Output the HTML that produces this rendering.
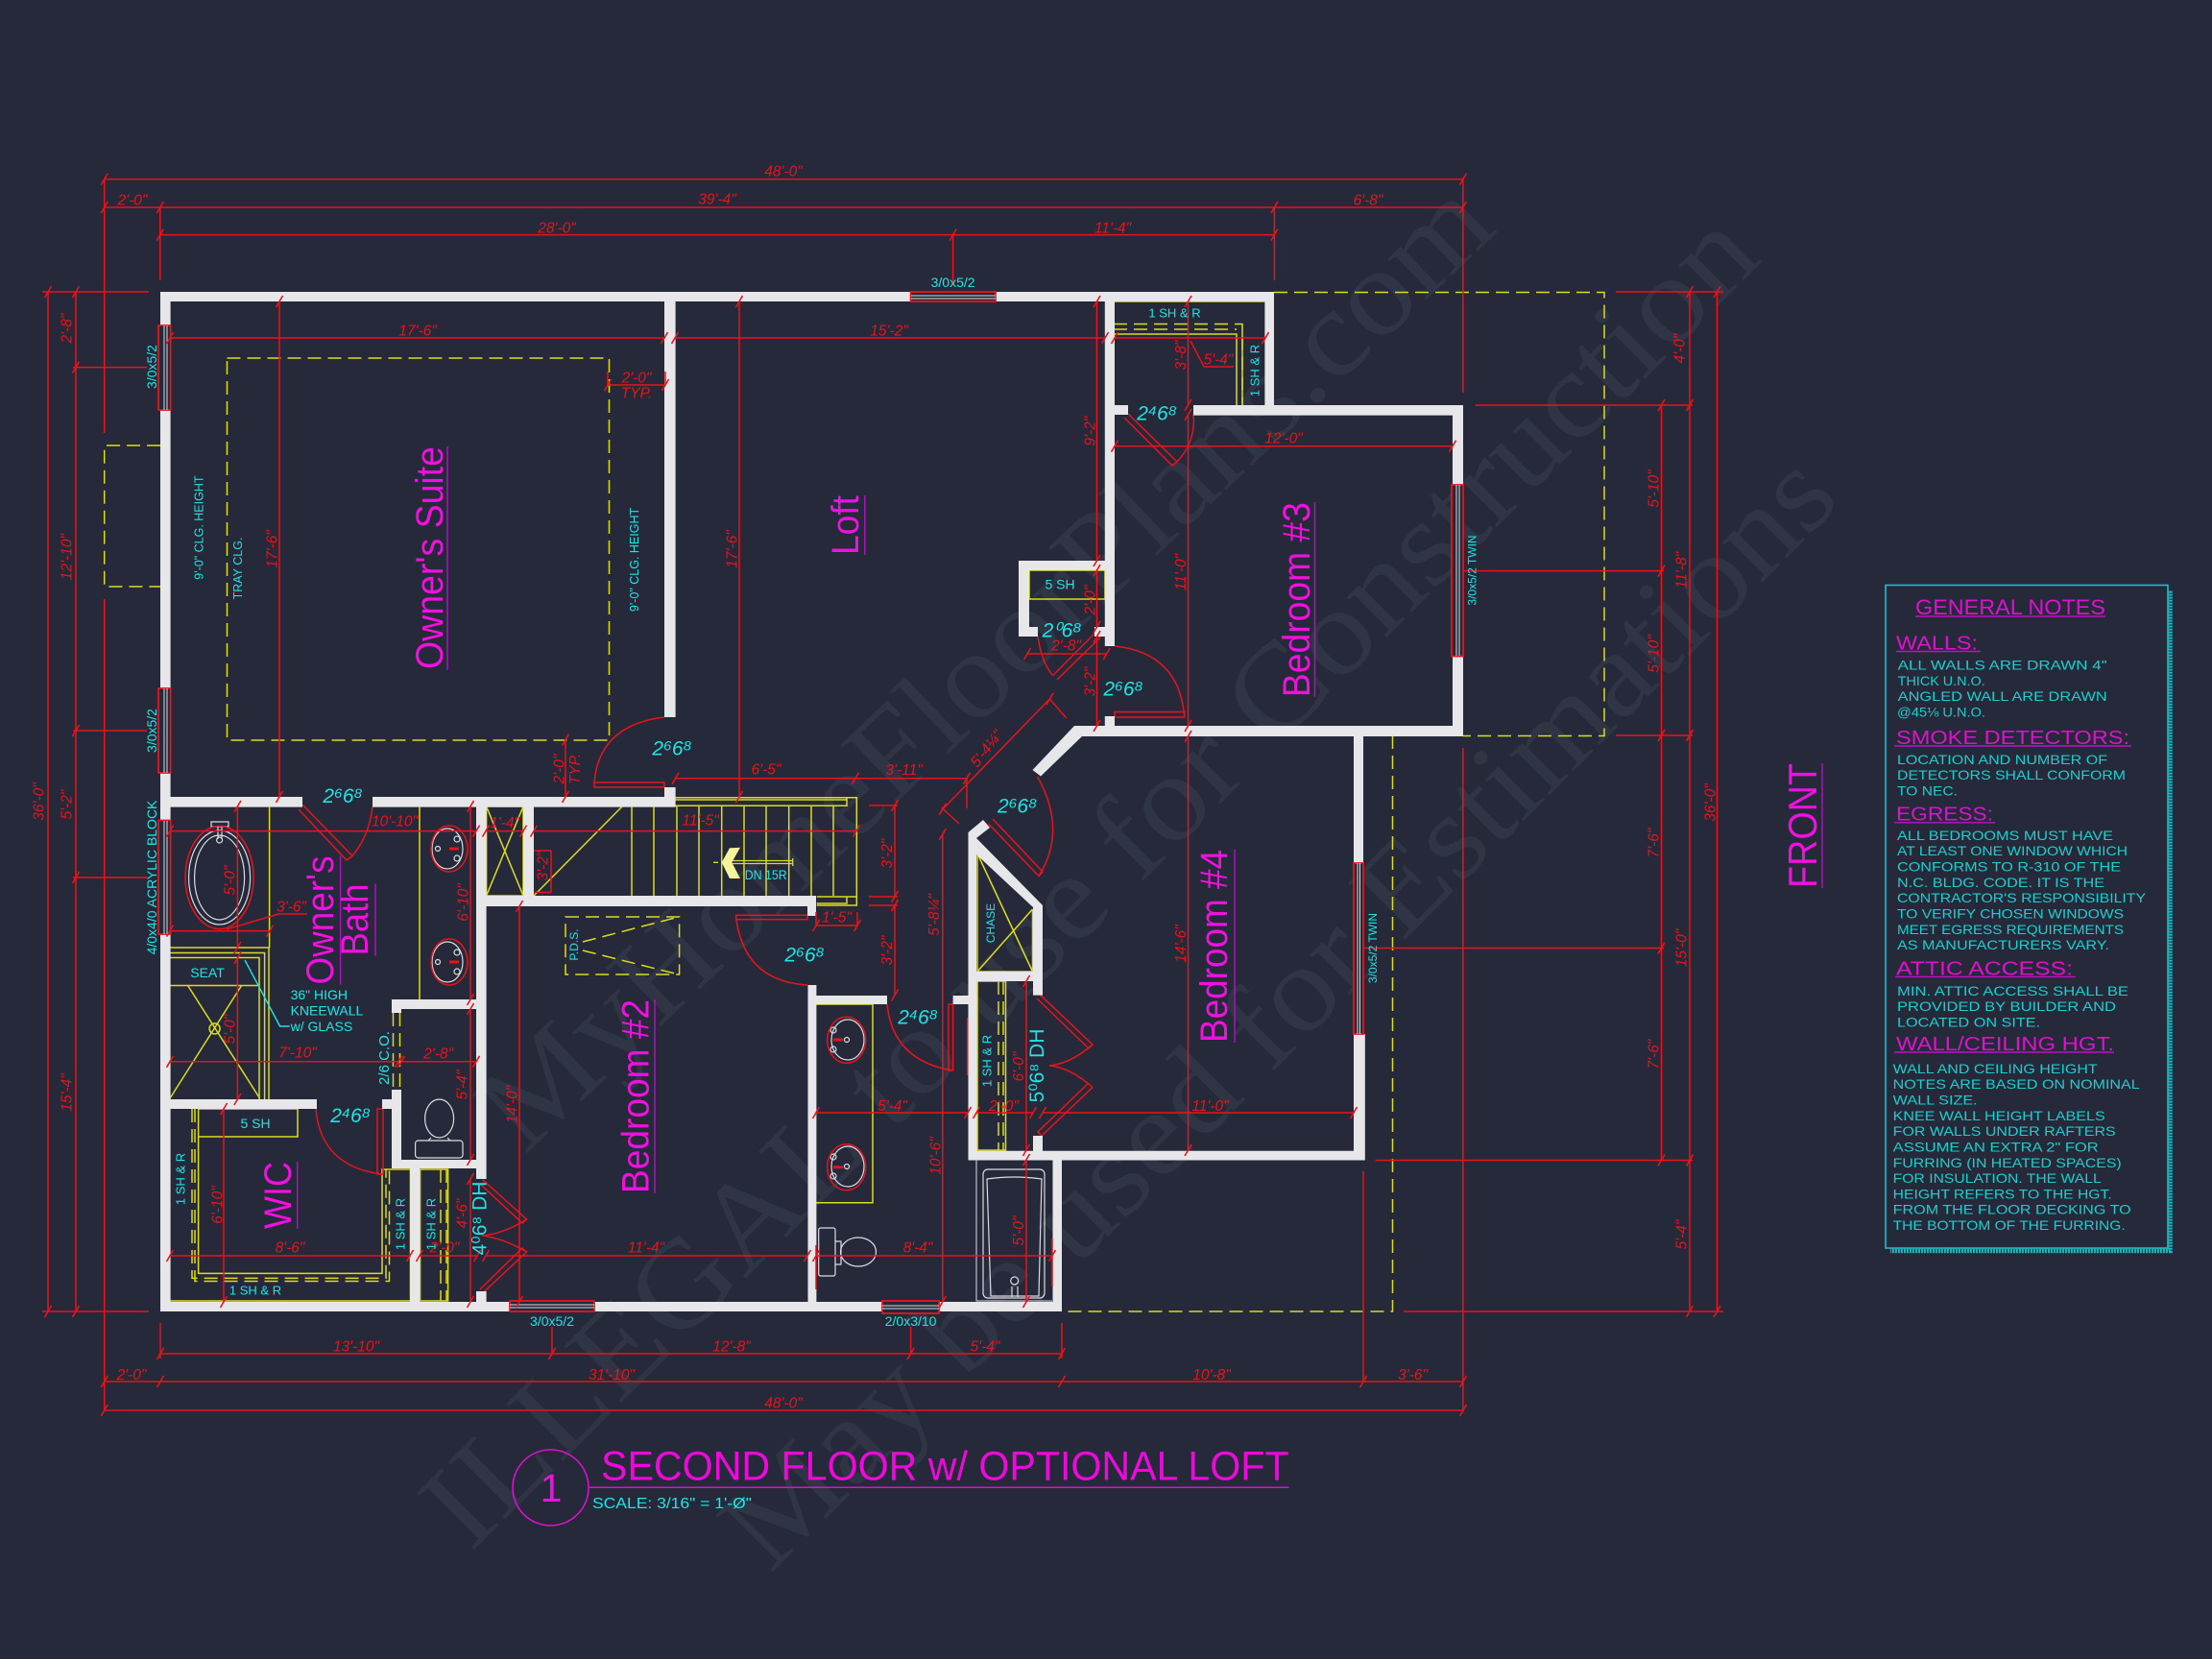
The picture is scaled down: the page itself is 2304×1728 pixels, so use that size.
<!DOCTYPE html>
<html><head><meta charset="utf-8"><title>Second Floor Plan</title>
<style>
html,body{margin:0;padding:0;background:#252939}
svg{display:block}
text{font-family:"Liberation Sans",sans-serif}
.w{font-family:"Liberation Serif",serif;fill:#303546;font-size:128px}
.d{fill:#e8141c;font-size:15.5px;font-style:italic;text-anchor:middle;dominant-baseline:central}
.c{fill:#1fe6e6;font-size:14px;text-anchor:middle;dominant-baseline:central}
.dr{fill:#1fe6e6;font-size:21px;font-style:italic;text-anchor:middle;dominant-baseline:central}
.m{fill:#f010e0;font-size:40px;text-anchor:middle}
.n{fill:#1ccfcf;font-size:14px}
.h{fill:#e010d0;font-size:20px}
.r{fill:none;stroke:#e8141c;stroke-width:1.5}
.y{fill:none;stroke:#dcdc1e;stroke-width:1.5}
.ds{stroke-dasharray:14 7}
.wh{fill:none;stroke:#dcdce2;stroke-width:1.2}
.ul{stroke:#b010c0;stroke-width:1.5}
.t{marker-start:url(#k);marker-mid:url(#k);marker-end:url(#k)}
</style></head><body>
<svg xmlns="http://www.w3.org/2000/svg" width="2304" height="1728" viewBox="0 0 2304 1728">
<defs><marker id="k" viewBox="-7 -7 14 14" markerUnits="userSpaceOnUse" markerWidth="14" markerHeight="14" orient="0"><path d="M-3.5 6L3.5 -6" stroke="#e8141c" stroke-width="1.6" fill="none"/></marker></defs>
<rect width="2304" height="1728" fill="#252939"/>

<!-- watermark -->
<g class="w">
<text class="w" transform="translate(546,1204) rotate(-43.5)" textLength="1400" lengthAdjust="spacingAndGlyphs">MyHomeFloorPlans.com</text>
<text class="w" transform="translate(490,1618) rotate(-45)" textLength="1905" lengthAdjust="spacingAndGlyphs">ILLEGAL to use for Construction</text>
<text class="w" transform="translate(802,1640) rotate(-45)" textLength="1580" lengthAdjust="spacingAndGlyphs">May be used for Estimations</text>
</g>

<!-- dashed outlines -->
<g class="y ds">
<path d="M167 464H108.7V611H167"/>
<path d="M1327 304.5H1671V766.5H1524"/>
<path d="M1450.5 766V1366H1106"/>
<rect x="236.5" y="373" width="398" height="398"/>
<rect x="589" y="955" width="118.6" height="60"/>
<path d="M607 981L707 955M607 990L707 1015"/>
</g>

<!-- yellow fixtures -->
<g class="y">
<path d="M280.6 840.6V987.5M437 840.6V1041"/>
<path d="M177 987H280V1145M177 992.5H275.6V1145M177 997.5H270V1145M177 1026.5H270"/>
<path d="M195.6 1026.5L270.6 1144M251.6 1026.5L177 1144"/>
<circle cx="223.6" cy="1071.4" r="5.5"/>
<rect x="206.6" y="1155" width="103.4" height="29"/>
<path d="M206.6 1184V1326.4H398V1218H427.5V1355H177M437.6 1218H466.6V1355H437.6Z"/>
<path d="M506.6 840H545V933H506.6ZM506.6 840L545 933M545 840L506.6 933"/>
<path d="M556 933L648 840"/>
<path d="M703 830.7H892.3V943H850.7M703 833H882V839.3H703M882 830.7V839.3M850.7 934H892.3M850.7 941H882V934"/>
<path d="M658 840V933M681 840V933M705 840V933M728 840V933M751.7 840V933M775 840V933M798 840V933M821.7 840V933M845 840V933M868 840V933"/>
<path d="M762 896.5H825.7M762 899.5H825.7M825.7 894V902M743 898.3H748" stroke-width="1.3"/>
<path d="M850 1046H909V1252.7H850"/>
<path d="M1018 889L1075.5 1012M1018 1012L1075.5 947M1018 889V1012H1075.5V947"/>
<path d="M1018 1022H1047.5V1198H1018Z"/>
<path d="M1072 594H1151V624H1072Z"/>
<path d="M1160 314H1318V422M1160 314V422"/>
<path d="M1160 348H1288V422M1294 422V343"/>
</g>
<g class="y ds" stroke-width="2">
<path d="M200 1155V1331.4H402V1218"/>
<path d="M203 1155V1334.5H405.5V1218"/>
<path d="M459 1218V1355M465 1218V1355M1040 1022V1198M1045 1022V1198"/>
<path d="M1160 337.5H1294V422M1160 343H1288"/>
<path d="M409.5 1055V1135M416.5 1055V1135"/>
</g>
<path d="M751.7 898.3L760 883.3L771 882.7L762.3 898.3L771 915L760 915Z" fill="#f4f49a"/>

<!-- red door panels and arcs -->
<g class="r">
<path d="M315 838L367 891.5L361 896L311 843"/><path d="M367 891.5Q385 870 388 840"/>
<rect x="393" y="1155" width="6" height="68"/><path d="M329 1155Q334 1215 398 1223"/>
<path d="M619 815V820H692V815H619"/><path d="M619 815Q624 755 692 747"/>
<path d="M502.5 1228.6L548.5 1270L544 1274L500 1233"/><path d="M548.5 1270Q525 1285 502 1287"/>
<path d="M502.5 1347L548.5 1304L544 1300L500 1343"/><path d="M548.5 1304Q525 1290 502 1287"/>
<rect x="766.7" y="953.3" width="74.3" height="4.4"/><path d="M766.7 956Q775 1022 841 1026"/>
<rect x="988" y="1046" width="4.6" height="69"/><path d="M924 1046Q930 1105 992.6 1115"/>
<path d="M1029.6 858L1082 912.5L1086 908L1034 853"/><path d="M1082 912.5Q1112 865 1080.6 809"/>
<path d="M1083.8 1036.6L1138 1088L1134 1092L1080 1040"/><path d="M1138 1088Q1115 1108 1093 1110"/>
<path d="M1138 1132.6L1085 1183L1081 1179L1134 1128"/><path d="M1138 1132.6Q1115 1112 1093 1110"/>
<path d="M1096.6 703.6L1141 659L1146 664L1101 708"/><path d="M1096.6 703.6Q1085 690 1081 663"/>
<rect x="1161" y="741.5" width="72.7" height="5.5"/><path d="M1161 673Q1228 680 1233.7 746"/>
<path d="M1175 431L1226 481L1221 485L1171 435"/><path d="M1226 481Q1246 460 1243 431"/>
</g>

<!-- walls -->
<path fill="#e7e7ea" d="M167 304H948V314H177.6V339H167ZM1037 304H1327V432H1318V314H1037ZM167 427H177.6V717H167ZM167 805H177.6V854H167ZM167 973H177.6V1356H531V1366H167ZM619 1356H919V1366H619ZM978 1356H1106V1366H978ZM1096.5 1208H1106V1356H1096.5ZM692 314H703.6V747H692ZM177 830H315V840.6H177ZM388 830H703.6V840.6H388ZM692 820H703.6V832H692ZM496 830H506.6V1228H496ZM545 830H556V944H545ZM496 933H850V944H496ZM841 933H850V954H841ZM408 1041H506V1051H418V1055H408ZM408 1135H418V1208H506V1217H408ZM167 1145H330V1155H167ZM398 1145H408V1155H398ZM427 1217H437V1356H427ZM496 1345H506.6V1356H496ZM841.5 1026H850.4V1037H924V1046H850.4V1366H841.5ZM992.6 1037H1008.5V867L1024 854L1031 862L1017 873L1086 943V1036.6H1076V945L1017 890V1012H1076V1022H1017.5V1198.7H1076V1183H1086V1198.7H1410V1077H1421.8V1208.5H1008.5V1046H992.6ZM1410 766H1420V899H1410ZM1150.8 314H1161V422H1175V432H1161V673H1150.8ZM1150.8 746H1161V756H1513V683.5H1524V767H1127L1084 808.5L1075.5 802L1119 756H1150.8ZM1243 422H1524V505H1513V432.6H1243ZM1061 584H1151V594H1072V653H1081V663H1061ZM1140 653H1151V663H1140Z"/>

<!-- windows -->
<g fill="#252939" stroke="#e8141c" stroke-width="1.8">
<rect x="165" y="339" width="12.6" height="88"/><rect x="165" y="717" width="12.6" height="88"/><rect x="165" y="854.5" width="12.6" height="118.5"/>
<rect x="948.6" y="304" width="88.4" height="10"/><rect x="531" y="1355" width="88" height="11"/><rect x="919" y="1355" width="59" height="13"/>
<rect x="1512" y="505" width="12" height="178.5"/><rect x="1410" y="899" width="10" height="178"/>
</g>
<path stroke="#dcdce2" stroke-width="1" d="M171 339V427M174 339V427M171 717V805M174 717V805M171 855V973M174 855V973M949 308H1037M949 311H1037M531 1359H619M531 1362H619M919 1360H978M919 1363H978M1517 505V683M1520 505V683M1414 899V1077M1416.5 899V1077"/>

<!-- fixtures -->
<g class="wh">
<ellipse cx="228.6" cy="914" rx="32" ry="49"/><ellipse cx="228.6" cy="914" rx="26" ry="44"/>
<path d="M220 856H238V861H220ZM227 861V874M231 861V874"/><circle cx="228.6" cy="875" r="3"/>
<ellipse cx="466" cy="884" rx="16" ry="21"/><ellipse cx="466" cy="1002" rx="16" ry="21"/>
<circle cx="476" cy="874" r="3"/><circle cx="476" cy="894" r="3"/><circle cx="476" cy="992" r="3"/><circle cx="476" cy="1012" r="3"/><circle cx="456" cy="884" r="2.5"/><circle cx="456" cy="1002" r="2.5"/>
<ellipse cx="457.6" cy="1165" rx="15" ry="20"/><rect x="432.6" y="1188" width="49.4" height="18" rx="3"/><path d="M449 1185L446 1188M466 1185L469 1188"/>
<ellipse cx="883" cy="1083" rx="17" ry="21"/><ellipse cx="883" cy="1215" rx="17" ry="21"/>
<circle cx="868" cy="1073" r="3"/><circle cx="868" cy="1093" r="3"/><circle cx="868" cy="1205" r="3"/><circle cx="868" cy="1225" r="3"/><circle cx="882" cy="1083" r="2.5"/><circle cx="882" cy="1215" r="2.5"/>
<path d="M852.7 1281a2 2 0 0 1 2-2H868a2 2 0 0 1 2 2V1327a2 2 0 0 1-2 2H854.7a2 2 0 0 1-2-2ZM870 1293H876V1317H870"/>
<ellipse cx="894" cy="1304" rx="18.5" ry="15"/>
<rect x="1024" y="1218" width="64" height="134" rx="5"/><path d="M1028 1228Q1056 1224 1085 1228L1082 1350H1032Z"/><circle cx="1056.7" cy="1334" r="4"/><path d="M1054 1340V1351M1060 1340V1351"/>
<path d="M1017 1208V1355H1096" stroke-width="1"/>
</g>
<g class="r">
<ellipse cx="228.6" cy="914" rx="35.5" ry="53.6"/>
<ellipse cx="468" cy="884" rx="19" ry="24"/><ellipse cx="468" cy="1002" rx="19" ry="24"/>
<ellipse cx="881.7" cy="1083.3" rx="20" ry="24"/><ellipse cx="881.7" cy="1215.7" rx="20" ry="24"/>
<path d="M868 1083H878M868 1215.7H878M468 884H478M468 1002H478" stroke-width="3"/>
<path d="M850 1297V1343M1007.7 1060V1120M1096 1290V1340" stroke-width="1.5"/>
</g>

<!-- dimension lines -->
<g class="r">
<polyline class="t" points="108.7,186.6 1523.9,186.6"/>
<polyline class="t" points="108.7,216 166.8,216 1327.4,216 1523.9,216"/>
<polyline class="t" points="166.8,244.6 992.6,244.6 1327.4,244.6"/>
<path d="M108.7 186V451M108.7 624V1470M166.8 216V292M1327.4 216V292M992.6 244V297M1523.9 186V409M1523.9 779V1470"/>
<polyline class="t" points="50,304 50,1366"/>
<polyline class="t" points="79,304 79,382.6 79,761 79,914 79,1366"/>
<path d="M44 304H155M44 1366H155M76 382.6H153M76 761H153M76 914H153"/>
<polyline class="t" points="1788.5,304 1788.5,1366"/>
<polyline class="t" points="1760,304 1760,422 1760,766 1760,1208.5 1760,1366"/>
<polyline class="t" points="1730.5,422 1730.5,594.6 1730.5,766 1730.5,987.5 1730.5,1208.5"/>
<path d="M1683 304H1795M1536.6 422H1763M1683 766H1763M1432.6 1208.5H1763M1462 1366H1795M1524 594.6H1733M1420 987.5H1733"/>
<polyline class="t" points="167,1410 575,1410 948.6,1410 1106,1410"/>
<polyline class="t" points="108.7,1439 167,1439 1106,1439 1420,1439 1524,1439"/>
<polyline class="t" points="108.7,1469 1524,1469"/>
<path d="M167 1378V1415M1106 1378V1415M575 1382V1410M948.6 1382V1410M1420 1220V1439"/>
<polyline class="t" points="177,352 692,352"/><polyline class="t" points="703,352 1151,352"/><polyline class="t" points="1161,352 1318,352"/>
<polyline class="t" points="291,314 291,830"/><polyline class="t" points="770,314 770,830"/>
<polyline class="t" points="633,401 693,401"/><path d="M633 387V401M693 387V401"/>
<polyline class="t" points="589,770.5 589,830"/>
<polyline class="t" points="177,865.6 496,865.6"/><polyline class="t" points="506,865.6 545,865.6"/><polyline class="t" points="556,865.6 892,865.6"/>
<polyline class="t" points="177,1105.8 415,1105.8"/><polyline class="t" points="418,1105.8 496,1105.8"/>
<polyline class="t" points="177,1308 427,1308"/><polyline class="t" points="437,1308 497,1308"/><polyline class="t" points="506,1308 841,1308"/><polyline class="t" points="850,1308 1096,1308"/>
<polyline class="t" points="850,1159 1008,1159"/><polyline class="t" points="1017,1159 1076,1159"/><polyline class="t" points="1086,1159 1410,1159"/>
<polyline class="t" points="850,964 893,964"/><path d="M850 950V964M893 950V964"/>
<polyline class="t" points="703.6,810.7 891,810.7 1007,810.7"/><path d="M1007 810V842"/>
<polyline class="t" points="981.8,843 1093.4,728"/><path d="M1093.4 728L1110.6 748M980.5 841L999 858"/>
<polyline class="t" points="932,839 932,934"/><polyline class="t" points="932,943 932,1036.6"/><path d="M905 839H935M905 934H935M905 943H935"/>
<polyline class="t" points="981.8,869 981.8,1356"/>
<path d="M574 886V929.5M556 886H574M556 929.5H574"/>
<polyline class="t" points="541,944 541,1356"/>
<polyline class="t" points="490,840 490,1041"/><polyline class="t" points="490,1051 490,1208"/><polyline class="t" points="490,1228 490,1356"/>
<polyline class="t" points="247.4,840 247.4,987"/><polyline class="t" points="247.4,998 247.4,1145"/>
<polyline class="t" points="177,969.6 281,969.6"/><path d="M236 968L290 952H320"/>
<polyline class="t" points="233,1155 233,1356"/>
<polyline class="t" points="1161,464.7 1513,464.7"/>
<polyline class="t" points="1237.5,314 1237.5,422"/><polyline class="t" points="1237.5,432 1237.5,756"/><polyline class="t" points="1237.5,767 1237.5,1198"/>
<polyline class="t" points="1069,1208 1069,1356"/><polyline class="t" points="1069,1022 1069,1198"/>
<polyline class="t" points="1142.5,314 1142.5,584"/><polyline class="t" points="1142.5,594 1142.5,653"/><polyline class="t" points="1142.5,663 1142.5,756"/>
<polyline class="t" points="1070,681 1152.7,681"/>
<path d="M1240 355L1254 382H1285"/>
</g>
<path d="M255 1000L291.6 1069H301.6" fill="none" stroke="#1fe6e6" stroke-width="1.4"/>

<!-- dimension text -->
<g>
<text class="d" x="816" y="179">48'-0"</text><text class="d" x="138" y="209">2'-0"</text><text class="d" x="747" y="208">39'-4"</text><text class="d" x="1425" y="209">6'-8"</text><text class="d" x="580" y="238">28'-0"</text><text class="d" x="1159" y="238">11'-4"</text>
<text class="d" x="816" y="1462">48'-0"</text><text class="d" x="371" y="1403">13'-10"</text><text class="d" x="762" y="1403">12'-8"</text><text class="d" x="1026" y="1403">5'-4"</text><text class="d" x="137" y="1432.6">2'-0"</text><text class="d" x="637" y="1432.6">31'-10"</text><text class="d" x="1262" y="1432.6">10'-8"</text><text class="d" x="1471.6" y="1432.6">3'-6"</text>
<text class="d" x="435" y="345">17'-6"</text><text class="d" x="926" y="345">15'-2"</text><text class="d" x="663" y="394">2'-0"</text><text class="d" x="663" y="410">TYP.</text>
<text class="d" x="411" y="856">10'-10"</text><text class="d" x="525.6" y="857.5">1'-4"</text><text class="d" x="729.6" y="855">11'-5"</text>
<text class="d" x="310" y="1097">7'-10"</text><text class="d" x="456.6" y="1098">2'-8"</text><text class="d" x="302" y="1300">8'-6"</text><text class="d" x="463" y="1300">2'-0"</text><text class="d" x="673" y="1300">11'-4"</text><text class="d" x="956" y="1300">8'-4"</text>
<text class="d" x="929.5" y="1152.7">5'-4"</text><text class="d" x="1045.5" y="1152.7">2'-0"</text><text class="d" x="1260.5" y="1152.7">11'-0"</text><text class="d" x="871.4" y="956">1'-5"</text><text class="d" x="798" y="802">6'-5"</text><text class="d" x="941.6" y="802.7">3'-11"</text>
<text class="d" x="303.6" y="945">3'-6"</text><text class="d" x="1337" y="457">12'-0"</text><text class="d" x="1110.6" y="673">2'-8"</text><text class="d" x="1269" y="375">5'-4"</text>
<text class="d" transform="rotate(-90 41 835)" x="41" y="835">36'-0"</text><text class="d" transform="rotate(-90 70 838)" x="70" y="838">5'-2"</text><text class="d" transform="rotate(-90 70 580)" x="70" y="580">12'-10"</text><text class="d" transform="rotate(-90 70 342)" x="70" y="342">2'-8"</text><text class="d" transform="rotate(-90 70 1138)" x="70" y="1138">15'-4"</text>
<text class="d" transform="rotate(-90 1750 363)" x="1750" y="363">4'-0"</text><text class="d" transform="rotate(-90 1723 509)" x="1723" y="509">5'-10"</text><text class="d" transform="rotate(-90 1752 594)" x="1752" y="594">11'-8"</text><text class="d" transform="rotate(-90 1723 681)" x="1723" y="681">5'-10"</text><text class="d" transform="rotate(-90 1782 836)" x="1782" y="836">36'-0"</text><text class="d" transform="rotate(-90 1723 878)" x="1723" y="878">7'-6"</text><text class="d" transform="rotate(-90 1723 1098)" x="1723" y="1098">7'-6"</text><text class="d" transform="rotate(-90 1752 987.5)" x="1752" y="987.5">15'-0"</text><text class="d" transform="rotate(-90 1752 1286)" x="1752" y="1286">5'-4"</text>
<text class="d" transform="rotate(-90 284 572)" x="284" y="572">17'-6"</text><text class="d" transform="rotate(-90 763 572)" x="763" y="572">17'-6"</text><text class="d" transform="rotate(-90 583 801)" x="583" y="801">2'-0"</text><text class="d" transform="rotate(-90 599.5 801)" x="599.5" y="801">TYP.</text>
<text class="d" transform="rotate(-90 566 902)" x="566" y="902">3'-2"</text><text class="d" transform="rotate(-90 534 1150.5)" x="534" y="1150.5">14'-0"</text><text class="d" transform="rotate(-90 483 940)" x="483" y="940">6'-10"</text><text class="d" transform="rotate(-90 482 1130)" x="482" y="1130">5'-4"</text><text class="d" transform="rotate(-90 482 1264)" x="482" y="1264">4'-6"</text>
<text class="d" transform="rotate(-90 240 917)" x="240" y="917">5'-0"</text><text class="d" transform="rotate(-90 240 1072)" x="240" y="1072">5'-0"</text><text class="d" transform="rotate(-90 227 1255)" x="227" y="1255">6'-10"</text>
<text class="d" transform="rotate(-90 1230.5 370)" x="1230.5" y="370">3'-8"</text><text class="d" transform="rotate(-90 1230.5 596)" x="1230.5" y="596">11'-0"</text><text class="d" transform="rotate(-90 1230.5 983)" x="1230.5" y="983">14'-6"</text><text class="d" transform="rotate(-90 1061.5 1282)" x="1061.5" y="1282">5'-0"</text><text class="d" transform="rotate(-90 1061.5 1111)" x="1061.5" y="1111">6'-0"</text>
<text class="d" transform="rotate(-90 1136 449)" x="1136" y="449">9'-2"</text><text class="d" transform="rotate(-90 1136 625)" x="1136" y="625">2'-0"</text><text class="d" transform="rotate(-90 1136 710)" x="1136" y="710">3'-2"</text>
<text class="d" transform="rotate(-90 924.4 889)" x="924.4" y="889">3'-2"</text><text class="d" transform="rotate(-90 924.4 990)" x="924.4" y="990">3'-2"</text><text class="d" transform="rotate(-90 973.5 953)" x="973.5" y="953">5'-8¼"</text><text class="d" transform="rotate(-90 975 1204)" x="975" y="1204">10'-6"</text>
<text class="d" transform="rotate(-52 1028 780)" x="1028" y="780">5'-4¼"</text>
</g>

<!-- cyan labels -->
<g>
<text class="c" x="992.6" y="294" font-size="15">3/0x5/2</text><text class="c" x="575" y="1376">3/0x5/2</text><text class="c" x="948.6" y="1376">2/0x3/10</text>
<text class="c" transform="rotate(-90 158 382)" x="158" y="382">3/0x5/2</text><text class="c" transform="rotate(-90 158 761)" x="158" y="761">3/0x5/2</text><text class="c" transform="rotate(-90 158 914)" x="158" y="914">4/0x4/0 ACRYLIC BLOCK</text>
<text class="c" transform="rotate(-90 1533.4 594)" x="1533.4" y="594" style="font-size:12px">3/0x5/2 TWIN</text><text class="c" transform="rotate(-90 1430 987.5)" x="1430" y="987.5" style="font-size:12px">3/0x5/2 TWIN</text>
<text class="c" transform="rotate(-90 207.6 549.6)" x="207.6" y="549.6" style="font-size:12.5px">9'-0" CLG. HEIGHT</text><text class="c" transform="rotate(-90 248 592)" x="248" y="592" style="font-size:12.5px">TRAY CLG.</text><text class="c" transform="rotate(-90 661 583)" x="661" y="583" style="font-size:12.5px">9'-0" CLG. HEIGHT</text>
<text class="dr" x="700" y="780">2⁶6⁸</text><text class="dr" x="357" y="829.5">2⁶6⁸</text><text class="dr" x="1170" y="718">2⁶6⁸</text><text class="dr" x="1106" y="657">2⁰6⁸</text><text class="dr" x="1205" y="431">2⁴6⁸</text><text class="dr" x="1059.6" y="840">2⁶6⁸</text><text class="dr" x="838" y="995">2⁶6⁸</text><text class="dr" x="956" y="1060">2⁴6⁸</text><text class="dr" x="365" y="1162.5">2⁴6⁸</text>
<text class="dr" transform="rotate(-90 500 1269)" x="500" y="1269" style="font-style:normal">4⁰6⁸ DH</text><text class="dr" transform="rotate(-90 1080.6 1110)" x="1080.6" y="1110" style="font-style:normal">5⁰6⁸ DH</text>
<text class="c" transform="rotate(-90 400.5 1102)" x="400.5" y="1102" style="font-size:15px">2/6 C.O.</text>
<text class="c" transform="rotate(-90 1032 961.6)" x="1032" y="961.6" style="font-size:12px">CHASE</text>
<text class="c" transform="rotate(-90 598 984)" x="598" y="984" style="font-size:12px">P.D.S.</text>
<text class="c" x="1223.5" y="326" style="font-size:13px">1 SH &amp; R</text><text class="c" transform="rotate(-90 1307 386)" x="1307" y="386" style="font-size:13px">1 SH &amp; R</text><text class="c" x="1104" y="608.5">5 SH</text>
<text class="c" transform="rotate(-90 1028 1105)" x="1028" y="1105" style="font-size:13px">1 SH &amp; R</text>
<text class="c" transform="rotate(-90 188 1228)" x="188" y="1228" style="font-size:13px">1 SH &amp; R</text><text class="c" x="266" y="1344" style="font-size:13px">1 SH &amp; R</text><text class="c" transform="rotate(-90 417 1275)" x="417" y="1275" style="font-size:13px">1 SH &amp; R</text><text class="c" transform="rotate(-90 449 1275)" x="449" y="1275" style="font-size:13px">1 SH &amp; R</text>
<text class="c" x="266" y="1170">5 SH</text><text class="c" x="216" y="1013">SEAT</text>
<text class="c" x="302.6" y="1036" style="text-anchor:start">36" HIGH</text><text class="c" x="302.6" y="1052.5" style="text-anchor:start">KNEEWALL</text><text class="c" x="302.6" y="1069" style="text-anchor:start">w/ GLASS</text>
<text class="c" x="775.7" y="911" style="text-anchor:start" textLength="44" lengthAdjust="spacingAndGlyphs">DN 15R</text>
</g>

<!-- room names -->
<g>
<text class="m" transform="translate(461,581) rotate(-90)" textLength="232" lengthAdjust="spacingAndGlyphs">Owner's Suite</text>
<text class="m" transform="translate(894,547) rotate(-90)" textLength="62" lengthAdjust="spacingAndGlyphs">Loft</text>
<text class="m" transform="translate(1364,624.6) rotate(-90)" textLength="203" lengthAdjust="spacingAndGlyphs">Bedroom #3</text>
<text class="m" transform="translate(1278,985.5) rotate(-90)" textLength="201" lengthAdjust="spacingAndGlyphs">Bedroom #4</text>
<text class="m" transform="translate(675.5,1142) rotate(-90)" textLength="202" lengthAdjust="spacingAndGlyphs">Bedroom #2</text>
<text class="m" transform="translate(347,958.5) rotate(-90)" textLength="134" lengthAdjust="spacingAndGlyphs">Owner's</text>
<text class="m" transform="translate(383,958) rotate(-90)" textLength="75" lengthAdjust="spacingAndGlyphs">Bath</text>
<text class="m" transform="translate(303,1245) rotate(-90)" textLength="70" lengthAdjust="spacingAndGlyphs">WIC</text>
<text class="m" transform="translate(1892,860) rotate(-90)" textLength="130" lengthAdjust="spacingAndGlyphs" style="font-size:42px">FRONT</text>
<path class="ul" d="M466 465V698M900.8 516V578M1369.5 523V726M1286 885V1086M682 1041V1243M354.6 891.5V1025.5M391 920.5V995.5M309.7 1210V1280M1898 795V925"/>
</g>

<!-- title -->
<circle cx="573.5" cy="1549.5" r="39.5" fill="none" stroke="#e010d0" stroke-width="1.5"/>
<text x="574" y="1564" fill="#f010e0" font-size="41" text-anchor="middle">1</text>
<text x="626" y="1541.7" fill="#ee08dc" font-size="43" textLength="716.6" lengthAdjust="spacingAndGlyphs">SECOND FLOOR w/ OPTIONAL LOFT</text>
<path stroke="#d810d0" stroke-width="1.5" d="M613.6 1549.3H1342.6"/>
<text x="617" y="1571" fill="#1fe6e6" font-size="16" textLength="166" lengthAdjust="spacingAndGlyphs">SCALE: 3/16" = 1'-Ø"</text>

<!-- notes -->
<rect x="1964" y="609.5" width="294" height="690.5" fill="none" stroke="#19c8d0" stroke-width="1.5"/>
<path d="M2260.5 615.6V1303H1969" fill="none" stroke="#19b8c0" stroke-width="4.5" stroke-dasharray="2 1"/>
<g>
<text x="1995" y="640" class="h" textLength="198" lengthAdjust="spacingAndGlyphs" style="font-size:22px">GENERAL NOTES</text>
<text x="1975" y="676.6" class="h" textLength="85" lengthAdjust="spacingAndGlyphs">WALLS:</text>
<text x="1975" y="775" class="h" textLength="243" lengthAdjust="spacingAndGlyphs">SMOKE DETECTORS:</text>
<text x="1975" y="854.4" class="h" textLength="101" lengthAdjust="spacingAndGlyphs">EGRESS:</text>
<text x="1975" y="1015.5" class="h" textLength="184" lengthAdjust="spacingAndGlyphs">ATTIC ACCESS:</text>
<text x="1975" y="1094" class="h" textLength="227" lengthAdjust="spacingAndGlyphs">WALL/CEILING HGT.</text>
<path stroke="#c010c8" stroke-width="1.4" d="M1995 642H2193M1975 678.5H2063M1973 777H2220M1973 856.8H2078M1974 1017.4H2162M1973 1096H2202"/>
<text x="1976.7" y="697.5" class="n" textLength="218" lengthAdjust="spacingAndGlyphs">ALL WALLS ARE DRAWN 4"</text>
<text x="1976.7" y="714" class="n" textLength="91" lengthAdjust="spacingAndGlyphs">THICK U.N.O.</text>
<text x="1976.7" y="730" class="n" textLength="218" lengthAdjust="spacingAndGlyphs">ANGLED WALL ARE DRAWN</text>
<text x="1976" y="746.5" class="n" textLength="92" lengthAdjust="spacingAndGlyphs">@45⅛ U.N.O.</text>
<text x="1976" y="796" class="n" textLength="219" lengthAdjust="spacingAndGlyphs">LOCATION AND NUMBER OF</text>
<text x="1976" y="812" class="n" textLength="238" lengthAdjust="spacingAndGlyphs">DETECTORS SHALL CONFORM</text>
<text x="1976" y="828.5" class="n" textLength="63" lengthAdjust="spacingAndGlyphs">TO NEC.</text>
<text x="1976" y="875" class="n" textLength="225" lengthAdjust="spacingAndGlyphs">ALL BEDROOMS MUST HAVE</text>
<text x="1976" y="891" class="n" textLength="240" lengthAdjust="spacingAndGlyphs">AT LEAST ONE WINDOW WHICH</text>
<text x="1976" y="907.5" class="n" textLength="233" lengthAdjust="spacingAndGlyphs">CONFORMS TO R-310 OF THE</text>
<text x="1976" y="924" class="n" textLength="216" lengthAdjust="spacingAndGlyphs">N.C. BLDG. CODE. IT IS THE</text>
<text x="1976" y="940" class="n" textLength="259" lengthAdjust="spacingAndGlyphs">CONTRACTOR'S RESPONSIBILITY</text>
<text x="1976" y="956.5" class="n" textLength="236" lengthAdjust="spacingAndGlyphs">TO VERIFY CHOSEN WINDOWS</text>
<text x="1976" y="973" class="n" textLength="236" lengthAdjust="spacingAndGlyphs">MEET EGRESS REQUIREMENTS</text>
<text x="1976" y="989" class="n" textLength="221" lengthAdjust="spacingAndGlyphs">AS MANUFACTURERS VARY.</text>
<text x="1976" y="1037" class="n" textLength="241" lengthAdjust="spacingAndGlyphs">MIN. ATTIC ACCESS SHALL BE</text>
<text x="1976" y="1053" class="n" textLength="228" lengthAdjust="spacingAndGlyphs">PROVIDED BY BUILDER AND</text>
<text x="1976" y="1069.5" class="n" textLength="149" lengthAdjust="spacingAndGlyphs">LOCATED ON SITE.</text>
<text x="1971.7" y="1118" class="n" textLength="213" lengthAdjust="spacingAndGlyphs">WALL AND CEILING HEIGHT</text>
<text x="1971.7" y="1134" class="n" textLength="257" lengthAdjust="spacingAndGlyphs">NOTES ARE BASED ON NOMINAL</text>
<text x="1971.7" y="1150.5" class="n" textLength="88" lengthAdjust="spacingAndGlyphs">WALL SIZE.</text>
<text x="1971.7" y="1167" class="n" textLength="221" lengthAdjust="spacingAndGlyphs">KNEE WALL HEIGHT LABELS</text>
<text x="1971.7" y="1183" class="n" textLength="232" lengthAdjust="spacingAndGlyphs">FOR WALLS UNDER RAFTERS</text>
<text x="1971.7" y="1199.5" class="n" textLength="214" lengthAdjust="spacingAndGlyphs">ASSUME AN EXTRA 2" FOR</text>
<text x="1971.7" y="1216" class="n" textLength="238" lengthAdjust="spacingAndGlyphs">FURRING (IN HEATED SPACES)</text>
<text x="1971.7" y="1232" class="n" textLength="217" lengthAdjust="spacingAndGlyphs">FOR INSULATION. THE WALL</text>
<text x="1971.7" y="1248.5" class="n" textLength="228" lengthAdjust="spacingAndGlyphs">HEIGHT REFERS TO THE HGT.</text>
<text x="1971.7" y="1264.5" class="n" textLength="248" lengthAdjust="spacingAndGlyphs">FROM THE FLOOR DECKING TO</text>
<text x="1971.7" y="1281" class="n" textLength="242" lengthAdjust="spacingAndGlyphs">THE BOTTOM OF THE FURRING.</text>
</g>
</svg>
</body></html>
